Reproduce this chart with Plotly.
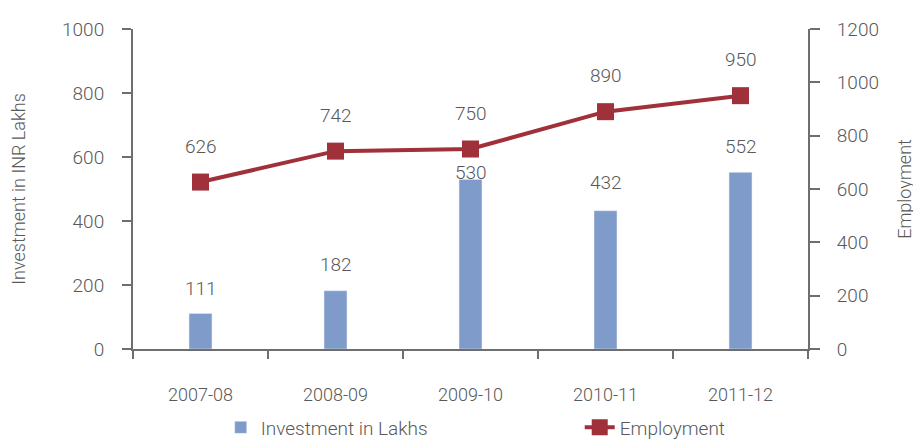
import plotly.graph_objects as go

years = ["2007-08", "2008-09", "2009-10", "2010-11", "2011-12"]
investment = [111, 182, 530, 432, 552]
employment = [626, 742, 750, 890, 950]

FONT = "Roboto, Liberation Sans, sans-serif"
TXT = "#595959"
AX = "#6e6e6e"
BAR = "#7F9BC9"
LINE = "#A0303A"

fig = go.Figure()
fig.add_trace(go.Bar(x=years, y=investment, name="Investment in Lakhs",
                     marker=dict(color=BAR), width=0.17, yaxis="y",
                     legendwidth=314))
fig.add_trace(go.Scatter(x=years, y=employment, name="Employment", yaxis="y2",
                         mode="lines+markers",
                         line=dict(color=LINE, width=4),
                         marker=dict(symbol="square", size=17, color=LINE),
                         legendwidth=110))

bar_label_shift = [25, 26, 7, 28, 26]
for yr, v, s in zip(years, investment, bar_label_shift):
    fig.add_annotation(x=yr, y=v, xref="x", yref="y", text=str(v), showarrow=False,
                       yshift=s, font=dict(family=FONT, size=19, color=TXT, weight=300))
for yr, v in zip(years, employment):
    fig.add_annotation(x=yr, y=v, xref="x", yref="y2", text=str(v), showarrow=False,
                       yshift=36, font=dict(family=FONT, size=19, color=TXT, weight=300))

fig.update_layout(
    width=913, height=437,
    margin=dict(l=125, r=113, t=21, b=96, autoexpand=False),
    paper_bgcolor="white", plot_bgcolor="white",
    font=dict(family=FONT, size=19, color=TXT, weight=300),
    showlegend=True,
    legend=dict(orientation="h", xref="container", yref="container",
                x=0.233, xanchor="left", y=0.04, yanchor="middle",
                entrywidthmode="pixels",
                font=dict(family=FONT, size=19, color=TXT, weight=300)),
    xaxis=dict(type="category", showline=True, linecolor=AX, linewidth=2, ticks="outside",
               tickson="boundaries", ticklen=8, tickwidth=2, tickcolor=AX,
               ticklabelstandoff=28, showgrid=False, zeroline=False,
               tickfont=dict(size=18)),
    yaxis=dict(range=[0, 1000], dtick=200, showline=True, linecolor=AX, linewidth=2,
               ticks="outside", ticklen=9, tickwidth=2, tickcolor=AX, showgrid=False,
               zeroline=False, ticklabelstandoff=14,
               title=dict(text="Investment in INR Lakhs", standoff=34,
                          font=dict(size=18))),
    yaxis2=dict(range=[0, 1200], dtick=200, overlaying="y", side="right",
                showline=True, linecolor=AX, linewidth=2, ticks="outside", ticklen=10,
                tickwidth=2, tickcolor=AX, showgrid=False, zeroline=False,
                ticklabelstandoff=13,
                title=dict(text="Employment", standoff=20, font=dict(size=18))),
)

fig.write_html("out.html")
